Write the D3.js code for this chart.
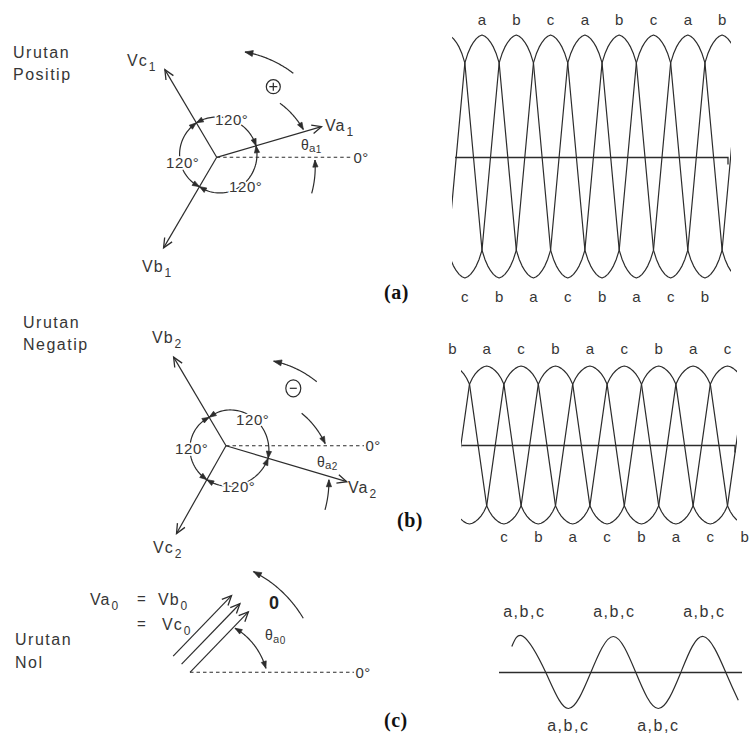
<!DOCTYPE html>
<html>
<head>
<meta charset="utf-8">
<title>Urutan fasa</title>
<script src="https://cdn.jsdelivr.net/npm/d3@7/dist/d3.min.js"></script>
<style>
  html, body { margin: 0; padding: 0; background: #fff; }
  svg { display: block; }
</style>
</head>
<body>
<script>
// ---- Phasor data: angle in degrees CCW from the 0° reference, magnitude in per-unit ----
const phaseNames = ["a", "b", "c"];
const positiveAngles = [16.3, -120.4, 120.6];
const positiveMagnitudes = [1.04, 1.0, 0.97];
const negativeAngles = [-16.6, 120.6, -119.4];
const negativeMagnitudes = [1.2, 0.98, 0.96];
const zeroAngles = [46, 46, 46];
const zeroMagnitudes = [0.8, 0.8, 0.8];
const separationLabel = "120°";
const referenceLabel = "0°";

// ---- Waveform data (electrical degrees, per-unit values) ----
const positiveCrestPhase = [0, 120, 240];   // a, b, c
const negativeCrestPhase = [0, 240, 120];   // a, b, c
const crestProfileDeg = [0, 10, 20, 30, 40, 50, 60];
const crestProfileVal = [1, 0.99, 0.97, 0.94, 0.9, 0.845, 0.77];
const positiveTopLabels = ["a", "b", "c", "a", "b", "c", "a", "b"];
const positiveBottomLabels = ["c", "b", "a", "c", "b", "a", "c", "b"];
const negativeTopLabels = ["b", "a", "c", "b", "a", "c", "b", "a", "c"];
const negativeBottomLabels = ["c", "b", "a", "c", "b", "a", "c", "b"];
const zeroWaveDeg = [-46, 0, 90, 180, 270, 360, 450, 540, 630, 720, 810, 860];
const zeroWaveVal = [0.72, 1, 0, -1, 0, 1, 0, -1, 0, 1, 0, -0.77];
const zeroTopLabels = ["a,b,c", "a,b,c", "a,b,c"];
const zeroBottomLabels = ["a,b,c", "a,b,c"];

// ---- drawing ----
const W = 749, H = 742;
const INK = "#2c2c2c", TEXT = "#363636";
const SANS = "'Liberation Sans', Arial, Helvetica, sans-serif";
const SERIF = "'Liberation Serif', 'Times New Roman', serif";

const svg = d3.select("body").append("svg")
  .attr("width", W).attr("height", H).attr("viewBox", `0 0 ${W} ${H}`);
svg.append("rect").attr("width", W).attr("height", H).attr("fill", "#fff");

const rad = d => d * Math.PI / 180;
const polar = (c, r, deg) => [c[0] + r * Math.cos(rad(deg)), c[1] - r * Math.sin(rad(deg))];
const lineGen = d3.line();

function arrowHead(g, tip, prev, len, half, filled) {
  const dx = tip[0] - prev[0], dy = tip[1] - prev[1], L = Math.hypot(dx, dy);
  const ux = dx / L, uy = dy / L, px = -uy, py = ux;
  const b = [tip[0] - ux * len, tip[1] - uy * len];
  const p1 = [b[0] + px * half, b[1] + py * half];
  const p2 = [b[0] - px * half, b[1] - py * half];
  if (filled) {
    g.append("path").attr("d", `M${p1}L${tip}L${p2}Z`)
      .attr("fill", INK).attr("stroke", INK).attr("stroke-width", 0.7).attr("stroke-linejoin", "round");
  } else {
    g.append("path").attr("d", `M${p1}L${tip}L${p2}`)
      .attr("fill", "none").attr("stroke", INK).attr("stroke-width", 1.3);
  }
}

// points along an arc whose radius drifts from r0 to r1
function sweep(c, a0, a1, r0, r1, n = 48) {
  return d3.range(n + 1).map(i => {
    const t = i / n;
    return polar(c, r0 + (r1 - r0) * t, a0 + (a1 - a0) * t);
  });
}

function curvedArrow(g, pts, headStart, headEnd, len = 7, half = 2.6) {
  g.append("path").attr("d", lineGen(pts))
    .attr("fill", "none").attr("stroke", INK).attr("stroke-width", 1.2);
  if (headEnd) arrowHead(g, pts[pts.length - 1], pts[pts.length - 4], len, half, true);
  if (headStart) arrowHead(g, pts[0], pts[3], len, half, true);
}

function label(g, x, y, str, o = {}) {
  const t = g.append("text").attr("x", x).attr("y", y)
    .attr("font-family", o.family || SANS)
    .attr("font-size", o.size || 16)
    .attr("font-weight", o.weight || "normal")
    .attr("letter-spacing", o.spacing !== undefined ? o.spacing : 1)
    .attr("text-anchor", o.anchor || "start")
    .attr("fill", o.fill || TEXT);
  if (o.halo) {
    t.attr("stroke", "#fff").attr("stroke-width", o.halo)
      .attr("stroke-linejoin", "round").attr("paint-order", "stroke");
  }
  if (str) t.text(str);
  return t;
}

function subLabel(g, x, y, main, sub, o = {}) {
  const t = label(g, x, y, null, o);
  t.append("tspan").text(main);
  t.append("tspan").attr("font-size", o.subSize || 12)
    .attr("dy", o.subDy || 5).attr("dx", o.subDx || 1).text(sub);
  return t;
}

function thetaLabel(g, x, y, sub, halo) {
  const t = label(g, x, y, null, { size: 14, spacing: 0.3, halo: halo || 0 });
  t.append("tspan").text("θ");
  t.append("tspan").attr("font-size", 11.5).attr("dy", 2.5).text(sub.charAt(0));
  t.append("tspan").attr("font-size", 10).attr("dy", 1).text(sub.slice(1));
  return t;
}

// ---------- phasor diagram ----------
function phasorPanel(cfg) {
  const g = svg.append("g");
  const c = cfg.center;
  const r = d3.scaleLinear().domain([0, 1]).range([0, cfg.unit]);

  // 0° reference
  g.append("line")
    .attr("x1", c[0]).attr("y1", c[1]).attr("x2", cfg.refEnd).attr("y2", c[1])
    .attr("stroke", INK).attr("stroke-width", 1.1).attr("stroke-dasharray", "3.5,3");
  label(g, cfg.refEnd + 1.5, c[1] + 5.5, referenceLabel, { size: 15, spacing: 0.5 });

  // phasors
  cfg.angles.forEach((ang, i) => {
    const tip = polar(c, r(cfg.mags[i]), ang);
    g.append("line").attr("x1", c[0]).attr("y1", c[1]).attr("x2", tip[0]).attr("y2", tip[1])
      .attr("stroke", INK).attr("stroke-width", 1.2);
    arrowHead(g, tip, c, 9.5, 4.3, false);
  });

  // 120° separation arcs
  cfg.arcs.forEach(arc => {
    const i = phaseNames.indexOf(arc.from), j = phaseNames.indexOf(arc.to);
    let a0 = cfg.angles[i], a1 = cfg.angles[j];
    while (a1 <= a0) a1 += 360;
    const pts = sweep(c, a0, a1, cfg.starRadius[i], cfg.starRadius[j]);
    curvedArrow(g, pts, true, true, 7, 2.6);
  });
  cfg.arcs.forEach(arc => label(g, arc.lx, arc.ly, separationLabel, { size: 15, spacing: 0.6, halo: 3.5 }));

  // rotation arrow
  const rot = cfg.rotation;
  curvedArrow(g, sweep(c, rot.a0, rot.a1, rot.r0, rot.r1), false, true, 8, 3);

  // θ arrows
  cfg.theta.forEach(t => curvedArrow(g, sweep(c, t.a0, t.a1, t.r0, t.r1), false, true, 7, 2.6));

  // phasor names
  cfg.names.forEach(n => subLabel(g, n.x, n.y, n.text, n.sub, { size: 16, spacing: 1, subSize: 12 }));

  thetaLabel(g, cfg.thetaLabel.x, cfg.thetaLabel.y, cfg.thetaLabel.sub);

  // sequence name
  cfg.title.forEach((s, k) => label(g, cfg.titleX, cfg.titleY + k * 21.5, s, { size: 16, spacing: 1.5 }));
  return g;
}

// ---------- (a) Urutan Positip ----------
const gA = phasorPanel({
  center: [216.7, 157.3], unit: 105, refEnd: 352,
  angles: positiveAngles, mags: positiveMagnitudes,
  starRadius: [41, 34, 40],
  arcs: [
    { from: "a", to: "c", lx: 215, ly: 124.5 },
    { from: "c", to: "b", lx: 166, ly: 167.5 },
    { from: "b", to: "a", lx: 229, ly: 191.5 }
  ],
  rotation: { a0: 47.6, a1: 75, r0: 113.7, r1: 109 },
  theta: [
    { a0: 40.5, a1: 17.8, r0: 83.2, r1: 91 },
    { a0: -20.8, a1: -1.6, r0: 101.6, r1: 98.3 }
  ],
  names: [
    { x: 325, y: 130.5, text: "Va", sub: "1" },
    { x: 127, y: 66, text: "Vc", sub: "1" },
    { x: 142, y: 272, text: "Vb", sub: "1" }
  ],
  thetaLabel: { x: 301, y: 149.5, sub: "a1" },
  title: ["Urutan", "Positip"], titleX: 13, titleY: 58
});
// ⊕
gA.append("circle").attr("cx", 273.3).attr("cy", 86.7).attr("r", 7)
  .attr("fill", "none").attr("stroke", INK).attr("stroke-width", 1.2);
gA.append("path").attr("d", "M269.3,86.7H277.3M273.3,82.7V90.7")
  .attr("stroke", INK).attr("stroke-width", 1.2);

// ---------- (b) Urutan Negatip ----------
const gB = phasorPanel({
  center: [226, 445.7], unit: 105, refEnd: 364,
  angles: negativeAngles, mags: negativeMagnitudes,
  starRadius: [44, 33, 39],
  arcs: [
    { from: "a", to: "b", lx: 236, ly: 424.5 },
    { from: "b", to: "c", lx: 175, ly: 454 },
    { from: "c", to: "a", lx: 222, ly: 492 }
  ],
  rotation: { a0: 35.2, a1: 60.6, r0: 111, r1: 97 },
  theta: [
    { a0: 23.2, a1: 1.2, r0: 82.3, r1: 99.2 },
    { a0: -33, a1: -18.3, r0: 118, r1: 108.4 }
  ],
  names: [
    { x: 348, y: 493, text: "Va", sub: "2" },
    { x: 152, y: 343, text: "Vb", sub: "2" },
    { x: 153, y: 553, text: "Vc", sub: "2" }
  ],
  thetaLabel: { x: 317, y: 466.5, sub: "a2" },
  title: ["Urutan", "Negatip"], titleX: 23, titleY: 328
});
// ⊖
gB.append("ellipse").attr("cx", 293.3).attr("cy", 388.3).attr("rx", 7.5).attr("ry", 8.5)
  .attr("fill", "none").attr("stroke", INK).attr("stroke-width", 1.2);
gB.append("path").attr("d", "M289.8,388.3H296.8").attr("stroke", INK).attr("stroke-width", 1.2);

// ---------- (c) Urutan Nol ----------
(function zeroPanel() {
  const g = svg.append("g");
  const base = [190, 672.3];
  const r = d3.scaleLinear().domain([0, 1]).range([0, 105]);
  g.append("line").attr("x1", base[0]).attr("y1", base[1]).attr("x2", 354).attr("y2", base[1])
    .attr("stroke", INK).attr("stroke-width", 1.1).attr("stroke-dasharray", "3.5,3");
  label(g, 355.5, base[1] + 5.5, referenceLabel, { size: 15, spacing: 0.5 });

  // the three equal phasors, stacked side by side
  const stackOffset = [23.4, 11.7, 0];
  zeroAngles.forEach((ang, i) => {
    const o = polar(base, stackOffset[i], ang + 90);
    const tip = polar(o, r(zeroMagnitudes[i]), ang);
    g.append("line").attr("x1", o[0]).attr("y1", o[1]).attr("x2", tip[0]).attr("y2", tip[1])
      .attr("stroke", INK).attr("stroke-width", 1.2);
    arrowHead(g, tip, o, 9.5, 4.3, false);
  });

  curvedArrow(g, sweep(base, 25.5, 57.8, 125.5, 119), false, true, 8, 3);
  curvedArrow(g, sweep(base, 44.4, 3, 63, 76), true, true, 7, 2.6);

  thetaLabel(g, 265, 640, "a0", 3);

  label(g, 274, 608.5, "0", { size: 18, weight: "bold", spacing: 0, anchor: "middle", fill: "#222" });

  subLabel(g, 90, 605, "Va", "0", { size: 16, spacing: 1, subSize: 12 });
  label(g, 137, 604, "=", { size: 15, spacing: 0 });
  subLabel(g, 158, 605, "Vb", "0", { size: 16, spacing: 1, subSize: 12 });
  label(g, 137, 629, "=", { size: 15, spacing: 0 });
  subLabel(g, 162, 630, "Vc", "0", { size: 16, spacing: 1, subSize: 12 });

  label(g, 15, 645, "Urutan", { size: 16, spacing: 1.5 });
  label(g, 15, 668, "Nol", { size: 16, spacing: 1.5 });
})();

// ---------- three-phase waveforms ----------
function phasePoints(crest, degMin, degMax) {
  const pts = [], n = crestProfileDeg.length;
  const k0 = Math.floor((degMin - crest) / 360) - 1, k1 = Math.ceil((degMax - crest) / 360) + 1;
  for (let k = k0; k <= k1; k++) {
    const c0 = crest + 360 * k, t0 = c0 + 180;
    for (let i = n - 1; i > 0; i--) pts.push([c0 - crestProfileDeg[i], crestProfileVal[i]]);
    for (let i = 0; i < n; i++) pts.push([c0 + crestProfileDeg[i], crestProfileVal[i]]);
    for (let i = n - 1; i > 0; i--) pts.push([t0 - crestProfileDeg[i], -crestProfileVal[i]]);
    for (let i = 0; i < n; i++) pts.push([t0 + crestProfileDeg[i], -crestProfileVal[i]]);
  }
  return pts;
}

function wavePanel(cfg) {
  const g = svg.append("g");
  const x = d3.scaleLinear().domain([0, 120]).range([cfg.x0, cfg.x0 + cfg.step]);
  const y = d3.scaleLinear().domain([-1, 1]).range([cfg.yBottom, cfg.yTop]);
  const clipId = "clip-" + cfg.id;
  svg.append("clipPath").attr("id", clipId).append("rect")
    .attr("x", cfg.clip[0]).attr("y", 0).attr("width", cfg.clip[1] - cfg.clip[0]).attr("height", H);
  const line = d3.line().x(d => x(d[0])).y(d => y(d[1]));
  const waves = g.append("g").attr("clip-path", `url(#${clipId})`);
  cfg.crests.forEach(c => {
    waves.append("path").attr("d", line(phasePoints(c, x.invert(cfg.clip[0]), x.invert(cfg.clip[1]))))
      .attr("fill", "none").attr("stroke", INK).attr("stroke-width", 1.2).attr("stroke-linejoin", "round");
  });
  const y0 = Math.round(y(0)) + 0.5;
  g.append("path").attr("d", `M${cfg.axis[0]},${y0}H${cfg.axis[1]}V${y0 + 7}`)
    .attr("fill", "none").attr("stroke", INK).attr("stroke-width", 1.3);

  cfg.topLabels.forEach((s, i) => label(g, x(cfg.topStart + 120 * i), cfg.topY, s,
    { size: 15, spacing: 0, anchor: "middle" }));
  cfg.bottomLabels.forEach((s, i) => label(g, x(cfg.bottomStart + 120 * i), cfg.bottomY, s,
    { size: 15, spacing: 0, anchor: "middle" }));
}

wavePanel({
  id: "pos", x0: 482, step: 34.3, yTop: 35, yBottom: 278,
  clip: [452, 731], axis: [455, 728],
  crests: positiveCrestPhase,
  topLabels: positiveTopLabels, topStart: 0, topY: 25,
  bottomLabels: positiveBottomLabels, bottomStart: -60, bottomY: 302
});

wavePanel({
  id: "neg", x0: 486.7, step: 34.4, yTop: 366, yBottom: 524,
  clip: [461, 737], axis: [461.5, 735],
  crests: negativeCrestPhase,
  topLabels: negativeTopLabels, topStart: -120, topY: 354,
  bottomLabels: negativeBottomLabels, bottomStart: 60, bottomY: 542
});

// zero-sequence: all three phases coincide
(function zeroWave() {
  const g = svg.append("g");
  const x = d3.scaleLinear().domain([0, 360]).range([523.3, 613.3]);
  const y = d3.scaleLinear().domain([-1, 1]).range([708.5, 636.5]);
  g.append("line").attr("x1", 499).attr("x2", 742).attr("y1", y(0)).attr("y2", y(0))
    .attr("stroke", INK).attr("stroke-width", 1.3);
  const pts = zeroWaveDeg.map((d, i) => [d, zeroWaveVal[i]]);
  g.append("path").attr("d", d3.line().x(d => x(d[0])).y(d => y(d[1])).curve(d3.curveNatural)(pts))
    .attr("fill", "none").attr("stroke", INK).attr("stroke-width", 1.2);
  zeroTopLabels.forEach((s, i) => label(g, x(360 * i) + 1, 617, s, { size: 16, spacing: 1.5, anchor: "middle" }));
  zeroBottomLabels.forEach((s, i) => label(g, x(180 + 360 * i), 731, s, { size: 16, spacing: 1.5, anchor: "middle" }));
})();

// panel tags
[["(a)", 384, 299], ["(b)", 397, 527], ["(c)", 384, 727]].forEach(([s, px, py]) =>
  label(svg, px, py, s, { family: SERIF, size: 20, weight: "bold", spacing: 0.5, fill: "#111" }));
</script>
</body>
</html>
